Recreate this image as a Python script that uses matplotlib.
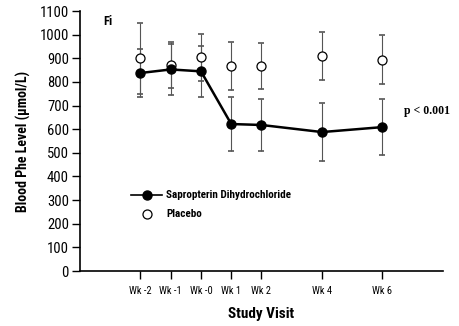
import matplotlib
matplotlib.use("Agg")
import matplotlib.pyplot as plt

weeks = [-2, -1, 0, 1, 2, 4, 6]
tick_labels = ["Wk -2", "Wk -1", "Wk -0", "Wk 1", "Wk 2", "Wk 4", "Wk 6"]
sapro = [838, 853, 845, 622, 618, 588, 609]
sapro_err = [102, 108, 108, 113, 112, 121, 120]
placebo = [900, 872, 905, 866, 867, 910, 895]
placebo_err = [150, 96, 100, 102, 98, 102, 104]

plt.rcParams['font.family'] = ['Roboto Condensed', 'Archivo Narrow', 'DejaVu Sans']

fig = plt.figure(figsize=(4.59, 3.26), dpi=100)
ax = fig.add_axes([0.1743, 0.1687, 0.965 - 0.1743, 0.966 - 0.1687])

ax.errorbar(weeks, placebo, yerr=placebo_err, fmt='none', ecolor='#555555',
            elinewidth=0.8, capsize=2, capthick=1.2, zorder=2)
ax.errorbar(weeks, sapro, yerr=sapro_err, fmt='none', ecolor='#555555',
            elinewidth=0.8, capsize=2, capthick=1.2, zorder=2)
ax.plot(weeks, placebo, linestyle='none', marker='o', markersize=6.5,
        markerfacecolor='white', markeredgecolor='black', markeredgewidth=0.9, zorder=3)
ax.plot(weeks, sapro, color='black', linewidth=1.8, marker='o', markersize=6.5,
        markerfacecolor='black', markeredgecolor='black', zorder=4)

ax.set_xlim(-4, 8)
ax.set_ylim(0, 1100)
ax.set_yticks(range(0, 1101, 100))
ax.set_xticks(weeks)
ax.set_xticklabels(tick_labels, fontsize=7.5)
ax.tick_params(axis='y', labelsize=10.5, length=6, width=1, pad=2)
ax.tick_params(axis='x', length=6, width=1, pad=5)
for s in ['top', 'right']:
    ax.spines[s].set_visible(False)
for s in ['left', 'bottom']:
    ax.spines[s].set_linewidth(1.2)

ax.set_xlabel("Study Visit", fontsize=11, fontweight='bold', labelpad=8)
ax.set_ylabel("Blood Phe Level (µmol/L)", fontsize=10, fontweight='bold', labelpad=6)

ax.text(0.063, 0.985, "Fi", transform=ax.transAxes, fontsize=9, fontweight='bold',
        va='top', ha='left')
ax.text(6.71, 678, "p < 0.001", fontsize=8.5, fontweight='bold',
        family=['Liberation Serif', 'DejaVu Serif'], va='center', ha='left')

# legend
ax.plot([-2.3, -1.3], [322, 322], color='black', linewidth=1.2)
ax.plot([-1.8], [322], marker='o', markersize=6.5, color='black')
ax.text(-1.15, 322, "Sapropterin Dihydrochloride", fontsize=8, fontweight='bold', va='center', ha='left')
ax.plot([-1.8], [240], marker='o', markersize=6.5, markerfacecolor='white',
        markeredgecolor='black', markeredgewidth=0.9)
ax.text(-1.15, 240, "Placebo", fontsize=8, fontweight='bold', va='center', ha='left')

fig.savefig("out.png", dpi=100)
